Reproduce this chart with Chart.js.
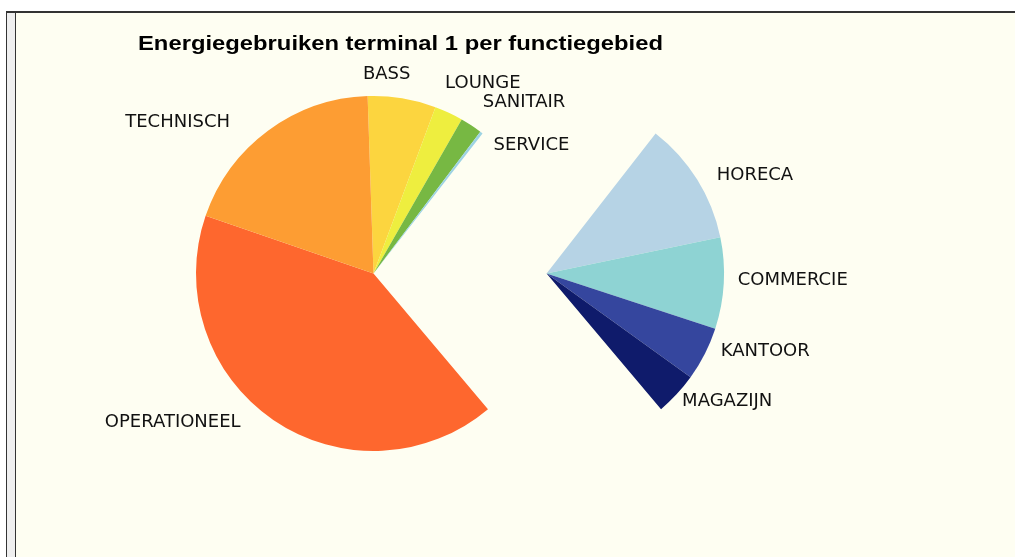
<!DOCTYPE html>
<html>
<head>
<meta charset="utf-8">
<script src="https://cdn.jsdelivr.net/npm/chart.js@4.4.1/dist/chart.umd.min.js"></script>
<style>
  html, body { margin: 0; padding: 0; background: #fff; }
  #frame {
    position: absolute; left: 6px; top: 11px; width: 1009px; height: 546px;
    background: #fefef2; border-top: 2px solid #333; border-left: 1px solid #333;
    box-sizing: border-box;
  }
  #strip {
    position: absolute; left: 0; top: 0; bottom: 0; width: 8px;
    background: #efefef; border-right: 1px solid #333;
  }
  #chart { position: absolute; left: 0; top: 0; }
</style>
</head>
<body>
<div id="frame"><div id="strip"></div></div>
<canvas id="chart" width="1015" height="557"></canvas>
<script>
// Slices, clockwise from the top
var labels = ["BASS", "LOUNGE", "SANITAIR", "SERVICE", "HORECA", "COMMERCIE", "KANTOOR", "MAGAZIJN", "OPERATIONEEL", "TECHNISCH"];
var shares = [6.2, 2.6, 2.0, 0.25, 11.2, 8.3, 4.9, 3.9, 41.4, 19.2];
var colors = ["#fcd53f", "#eeee3f", "#77b843", "#9dd3e3", "#b6d3e5", "#8ed3d3", "#35469e", "#0f1b6b", "#fe672e", "#fd9d33"];
// slices pulled out to the right as one group
var explodedGroup = ["HORECA", "COMMERCIE", "KANTOOR", "MAGAZIJN"];

var titleText = "Energiegebruiken terminal 1 per functiegebied";

// small label tweaks (px) where the labels crowd
var labelNudge = {
  BASS: [-17, -16],
  LOUNGE: [-14, -22],
  SANITAIR: [0, -16],
  SERVICE: [0, 19],
  TECHNISCH: [-26, -2],
  OPERATIONEEL: [-21, -7],
  HORECA: [5, -1],
  COMMERCIE: [-2, -5],
  KANTOOR: [1, -9],
  MAGAZIJN: [-8, -1]
};

const explodePlugin = {
  id: "explode",
  afterDatasetsUpdate(chart) {
    const meta = chart.getDatasetMeta(0);
    meta.data.forEach((arc, i) => {
      if (explodedGroup.includes(labels[i])) {
        arc.x += arc.outerRadius * 0.975;
      }
    });
  }
};

const labelPlugin = {
  id: "sliceLabels",
  afterDatasetsDraw(chart) {
    const ctx = chart.ctx;
    const meta = chart.getDatasetMeta(0);
    ctx.save();
    ctx.font = '18px "DejaVu Sans"';
    ctx.fillStyle = "#111";
    ctx.textBaseline = "middle";
    meta.data.forEach((arc, i) => {
      const mid = (arc.startAngle + arc.endAngle) / 2;
      const R = arc.outerRadius + 10;
      const h = Math.cos(mid);
      let x = arc.x + h * R;
      const y = arc.y + Math.sin(mid) * R + 1.5;
      if (h > 0.25) {
        ctx.textAlign = "left";
        x += 6;
      } else if (h < -0.25) {
        ctx.textAlign = "right";
        x -= 6;
      } else {
        ctx.textAlign = "center";
      }
      const n = labelNudge[labels[i]] || [0, 0];
      ctx.fillText(labels[i], x + n[0], y + n[1]);
    });
    ctx.restore();
  }
};

// title is drawn a bit wider than the plain font, like the original
const titlePlugin = {
  id: "plainTitle",
  afterDraw(chart) {
    const ctx = chart.ctx;
    ctx.save();
    ctx.font = 'bold 20px "Liberation Sans", Arial, sans-serif';
    ctx.fillStyle = "#000";
    ctx.textAlign = "center";
    ctx.textBaseline = "middle";
    const w = ctx.measureText(titleText).width;
    const sx = 525 / w;
    ctx.translate(400.5, 44);
    ctx.scale(sx, 1);
    ctx.fillText(titleText, 0, 0);
    ctx.restore();
  }
};

var ctx = document.getElementById("chart");
var chart = new Chart(ctx, {
  type: "pie",
  data: {
    labels: labels,
    datasets: [
      {
        data: shares,
        backgroundColor: colors,
        borderWidth: 0
      }
    ]
  },
  options: {
    responsive: false,
    animation: false,
    events: [],
    rotation: -1.9,
    layout: {
      padding: { left: 196, right: 464, top: 96, bottom: 106 }
    },
    plugins: {
      legend: { display: false },
      title: { display: false },
      tooltip: { enabled: false }
    }
  },
  plugins: [explodePlugin, labelPlugin, titlePlugin]
});
</script>
</body>
</html>
